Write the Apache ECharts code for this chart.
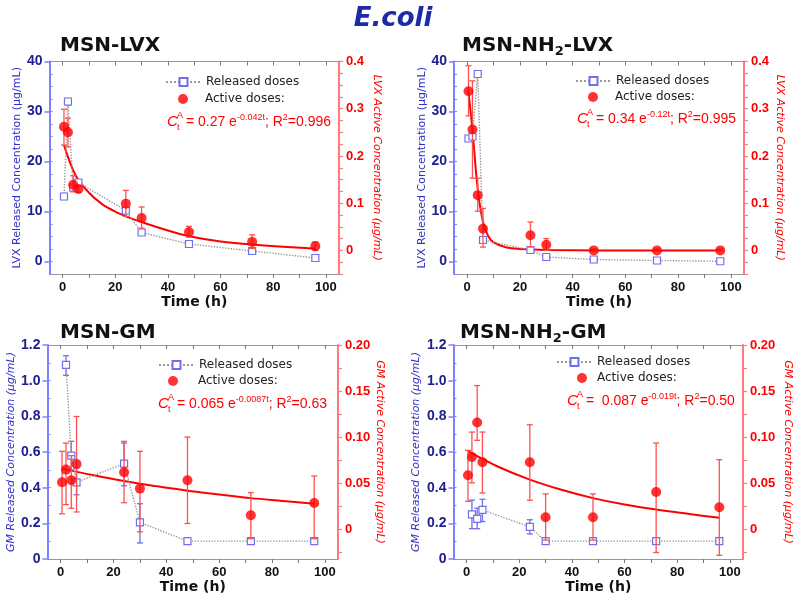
<!DOCTYPE html>
<html><head><meta charset="utf-8">
<script src="https://cdn.jsdelivr.net/npm/echarts@6/dist/echarts.min.js"></script>
<style>html,body{margin:0;padding:0;background:#fff}#c{width:800px;height:603px}</style>
</head><body><div id="c"></div><script>
// ---------- tick labels ----------
const xTicks = [0, 20, 40, 60, 80, 100];
const xMinorTicks = [0, 10, 20, 30, 40, 50, 60, 70, 80, 90, 100];
const lvxLeftTicks = [0, 10, 20, 30, 40];
const lvxLeftMinor = [-2.5, 0, 2.5, 5, 7.5, 10, 12.5, 15, 17.5, 20, 22.5, 25, 27.5, 30, 32.5, 35, 37.5, 40];
const lvxRightTicks = [0, 0.1, 0.2, 0.3, 0.4];
const lvxRightMinor = [-0.05, -0.025, 0, 0.025, 0.05, 0.075, 0.1, 0.125, 0.15, 0.175, 0.2, 0.225, 0.25, 0.275, 0.3, 0.325, 0.35, 0.375, 0.4];
const gmLeftTicks = [0, 0.2, 0.4, 0.6, 0.8, 1.0, 1.2];
const gmLeftMinor = [0, 0.1, 0.2, 0.3, 0.4, 0.5, 0.6, 0.7, 0.8, 0.9, 1.0, 1.1, 1.2];
const gmRightTicks = [0, 0.05, 0.10, 0.15, 0.20];
const gmRightMinor = [-0.025, 0, 0.025, 0.05, 0.075, 0.1, 0.125, 0.15, 0.175, 0.2];

// ---------- MSN-LVX ----------
const p1RelT = [0.5, 2, 4, 6, 24, 30, 48, 72, 96];
const p1Rel = [13.0, 32.0, 14.8, 15.8, 10.2, 5.8, 3.5, 2.1, 0.7];
const p1RelLo = [12.4, 31.3, 14.2, 15.3, 9.6, 5.3, 3.1, 1.7, 0.3];
const p1RelHi = [13.6, 32.6, 15.4, 16.3, 10.8, 6.3, 3.9, 2.5, 1.1];
const p1ActT = [0.5, 2, 4, 6, 24, 30, 48, 72, 96];
const p1Act = [0.262, 0.25, 0.139, 0.130, 0.099, 0.0686, 0.039, 0.018, 0.009];
const p1ActLo = [0.223, 0.219, 0.124, 0.123, 0.072, 0.047, 0.028, 0.004, 0.0];
const p1ActHi = [0.299, 0.28, 0.158, 0.137, 0.127, 0.092, 0.051, 0.033, 0.018];
const p1FitT = [0.5, 5, 10, 15, 20, 25, 30, 40, 48, 60, 72, 96];
const p1Fit = [0.223, 0.158, 0.122, 0.098, 0.082, 0.070, 0.060, 0.042, 0.030, 0.019, 0.0125, 0.0036];

// ---------- MSN-NH2-LVX ----------
const p2RelT = [0.5, 2, 4, 6, 24, 30, 48, 72, 96];
const p2Rel = [24.6, 25.0, 37.5, 4.3, 2.3, 0.9, 0.4, 0.2, 0.05];
const p2RelLo = [24.1, 24.5, 37.0, 3.8, 1.8, 0.5, 0.0, -0.2, -0.35];
const p2RelHi = [25.1, 25.5, 38.0, 4.8, 2.8, 1.3, 0.8, 0.6, 0.45];
const p2ActT = [0.5, 2, 4, 6, 24, 30, 48, 72, 96];
const p2Act = [0.337, 0.256, 0.117, 0.046, 0.032, 0.012, 0, 0, 0];
const p2ActLo = [0.285, 0.153, 0.083, 0.007, 0.007, 0, 0, 0, 0];
const p2ActHi = [0.391, 0.359, 0.153, 0.089, 0.060, 0.025, 0.003, 0.003, 0.003];
const p2FitT = [0.5, 2, 4, 6, 8, 10, 15, 20, 30, 50, 96];
const p2Fit = [0.335, 0.255, 0.13, 0.06, 0.03, 0.017, 0.006, 0.003, 0.001, 0, 0];

// ---------- MSN-GM ----------
const p3RelT = [2, 4, 6, 24, 30, 48, 72, 96];
const p3Rel = [1.088, 0.58, 0.43, 0.535, 0.205, 0.1, 0.1, 0.1];
const p3RelLo = [1.03, 0.50, 0.36, 0.41, 0.09, 0.095, 0.095, 0.095];
const p3RelHi = [1.14, 0.66, 0.51, 0.65, 0.31, 0.105, 0.105, 0.105];
const p3ActT = [0.5, 2, 4, 6, 24, 30, 48, 72, 96];
const p3Act = [0.0512, 0.0649, 0.0533, 0.071, 0.062, 0.0443, 0.0533, 0.0155, 0.0288];
const p3ActLo = [0.017, 0.027, 0.023, 0.019, 0.029, -0.0025, 0.0065, -0.010, -0.010];
const p3ActHi = [0.0847, 0.0937, 0.080, 0.1225, 0.0955, 0.0847, 0.1002, 0.040, 0.058];
const p3FitT = [0.5, 12, 24, 36, 48, 60, 72, 84, 96];
const p3Fit = [0.066, 0.059, 0.0525, 0.047, 0.042, 0.038, 0.034, 0.031, 0.028];

// ---------- MSN-NH2-GM ----------
const p4RelT = [2, 4, 6, 24, 30, 48, 72, 96];
const p4Rel = [0.25, 0.225, 0.275, 0.18, 0.1, 0.1, 0.1, 0.1];
const p4RelLo = [0.17, 0.17, 0.21, 0.14, 0.095, 0.095, 0.095, 0.095];
const p4RelHi = [0.33, 0.285, 0.335, 0.22, 0.105, 0.105, 0.105, 0.105];
const p4ActT = [0.5, 2, 4, 6, 24, 30, 48, 72, 96];
const p4Act = [0.0587, 0.0786, 0.116, 0.073, 0.0728, 0.0133, 0.0133, 0.0407, 0.0241];
const p4ActLo = [0.0306, 0.0505, 0.0966, 0.0396, 0.0317, -0.0115, -0.0115, -0.025, -0.028];
const p4ActHi = [0.0858, 0.1056, 0.156, 0.1056, 0.1135, 0.0386, 0.0386, 0.0937, 0.0757];
const p4FitT = [0.5, 12, 24, 36, 48, 60, 72, 84, 96];
const p4Fit = [0.085, 0.068, 0.054, 0.043, 0.034, 0.027, 0.0216, 0.017, 0.0126];

// ---------- styling ----------
const RED = '#ff0000', RED_L = '#ff7a7a', BLUE_L = '#8080ff', NAVY = '#20208c', SQ = '#6f6ff0';
const FONT = 'DejaVu Sans', LFONT = 'Liberation Sans';
const zip = (a, b) => a.map((v, i) => [v, b[i]]);
const zip3 = (a, b, c) => a.map((v, i) => [v, b[i], c[i]]);
const f1 = v => v === 0 ? '0' : v.toFixed(1);
const f2 = v => v === 0 ? '0' : v.toFixed(2);

const panels = [
  { grid: {left: 49.5, right: 461, top: 61.5, height: 212.5},
    L: {min: -2.5, max: 40, ticks: lvxLeftTicks, minor: lvxLeftMinor, fmt: v => String(v), name: 'LVX Released Concentration (μg/mL)', italic: false, gap: 24},
    R: {min: -0.05, max: 0.4, ticks: lvxRightTicks, minor: lvxRightMinor, fmt: f1, name: 'LVX Active Concentration (μg/mL)', gap: 32},
    rel: [p1RelT, p1Rel, p1RelLo, p1RelHi], act: [p1ActT, p1Act, p1ActLo, p1ActHi], fit: [p1FitT, p1Fit] },
  { grid: {left: 454, right: 56, top: 61.5, height: 212.5},
    L: {min: -2.5, max: 40, ticks: lvxLeftTicks, minor: lvxLeftMinor, fmt: v => String(v), name: 'LVX Released Concentration (μg/mL)', italic: false, gap: 20},
    R: {min: -0.05, max: 0.4, ticks: lvxRightTicks, minor: lvxRightMinor, fmt: f1, name: 'LVX Active Concentration (μg/mL)', gap: 30},
    rel: [p2RelT, p2Rel, p2RelLo, p2RelHi], act: [p2ActT, p2Act, p2ActLo, p2ActHi], fit: [p2FitT, p2Fit] },
  { grid: {left: 47.5, right: 462, top: 345, height: 214},
    L: {min: 0, max: 1.2, ticks: gmLeftTicks, minor: gmLeftMinor, fmt: f1, name: 'GM Released Concentration (μg/mL)', italic: true, gap: 29},
    R: {min: -0.032, max: 0.2, ticks: gmRightTicks, minor: gmRightMinor, fmt: f2, name: 'GM Active Concentration (μg/mL)', gap: 36},
    rel: [p3RelT, p3Rel, p3RelLo, p3RelHi], act: [p3ActT, p3Act, p3ActLo, p3ActHi], fit: [p3FitT, p3Fit] },
  { grid: {left: 453.5, right: 57, top: 345, height: 214},
    L: {min: 0, max: 1.2, ticks: gmLeftTicks, minor: gmLeftMinor, fmt: f1, name: 'GM Released Concentration (μg/mL)', italic: true, gap: 32},
    R: {min: -0.032, max: 0.2, ticks: gmRightTicks, minor: gmRightMinor, fmt: f2, name: 'GM Active Concentration (μg/mL)', gap: 39},
    rel: [p4RelT, p4Rel, p4RelLo, p4RelHi], act: [p4ActT, p4Act, p4ActLo, p4ActHi], fit: [p4FitT, p4Fit] }
];

function errRender(color, cap) {
  return function (params, api) {
    const x = api.value(0), lo = api.value(1), hi = api.value(2);
    const a = api.coord([x, lo]), b = api.coord([x, hi]);
    return {type: 'group', children: [
      {type: 'line', shape: {x1: a[0], y1: a[1], x2: b[0], y2: b[1]}, style: {stroke: color, lineWidth: 1.3}},
      {type: 'line', shape: {x1: a[0] - cap, y1: a[1], x2: a[0] + cap, y2: a[1]}, style: {stroke: color, lineWidth: 1.3}},
      {type: 'line', shape: {x1: b[0] - cap, y1: b[1], x2: b[0] + cap, y2: b[1]}, style: {stroke: color, lineWidth: 1.3}}
    ]};
  };
}

const grids = [], xAxes = [], yAxes = [], series = [];
panels.forEach((p, i) => {
  grids.push(Object.assign({containLabel: false}, p.grid));
  xAxes.push({type: 'value', gridIndex: i, position: 'bottom', min: -5, max: 105,
    name: 'Time (h)', nameLocation: 'middle', nameGap: 20,
    nameTextStyle: {fontFamily: FONT, fontWeight: 'bold', fontSize: 14, color: '#111'},
    axisLine: {show: true, onZero: false, lineStyle: {color: '#999', width: 1}},
    axisTick: {show: true, length: 4, customValues: xMinorTicks, lineStyle: {color: '#777'}},
    axisLabel: {customValues: xTicks, margin: 7, fontFamily: LFONT, fontWeight: 'bold', fontSize: 13, color: '#111'},
    splitLine: {show: false}});
  xAxes.push({type: 'value', gridIndex: i, position: 'top', min: -5, max: 105,
    axisLine: {show: true, onZero: false, lineStyle: {color: '#999', width: 1}},
    axisTick: {show: true, inside: true, length: 4, customValues: xMinorTicks, lineStyle: {color: '#777'}},
    axisLabel: {show: false}, splitLine: {show: false}});
  yAxes.push({type: 'value', gridIndex: i, position: 'left', min: p.L.min, max: p.L.max,
    name: p.L.name, nameLocation: 'middle', nameGap: p.L.gap,
    nameTextStyle: {fontFamily: FONT, fontSize: 11, color: '#3030c8', fontStyle: p.L.italic ? 'italic' : 'normal'},
    axisLine: {show: true, onZero: false, lineStyle: {color: BLUE_L, width: 2}},
    axisTick: {show: true, length: 5, customValues: p.L.ticks, lineStyle: {color: BLUE_L, width: 1.5}},
    axisLabel: {customValues: p.L.ticks, formatter: p.L.fmt, margin: 7, fontFamily: LFONT, fontWeight: 'bold', fontSize: 14, color: NAVY},
    splitLine: {show: false}});
  yAxes.push({type: 'value', gridIndex: i, position: 'right', min: p.R.min, max: p.R.max,
    name: p.R.name, nameLocation: 'middle', nameGap: p.R.gap, nameRotate: -90,
    nameTextStyle: {fontFamily: FONT, fontSize: 11, color: RED, fontStyle: 'italic'},
    axisLine: {show: true, onZero: false, lineStyle: {color: RED_L, width: 2}},
    axisTick: {show: true, length: 4, customValues: p.R.minor, lineStyle: {color: RED_L, width: 1.2}},
    axisLabel: {customValues: p.R.ticks, formatter: p.R.fmt, margin: 7, fontFamily: LFONT, fontWeight: 'bold', fontSize: 13, color: RED},
    splitLine: {show: false}});
  yAxes.push({type: 'value', gridIndex: i, position: 'left', min: p.L.min, max: p.L.max,
    axisLine: {show: false, onZero: false},
    axisTick: {show: true, inside: true, length: 3, customValues: p.L.minor, lineStyle: {color: BLUE_L, width: 1}},
    axisLabel: {show: false}, splitLine: {show: false}});

  const xi = 2 * i, yl = 3 * i, yr = 3 * i + 1;
  series.push({type: 'line', name: 'fit', xAxisIndex: xi, yAxisIndex: yr, data: zip(p.fit[0], p.fit[1]),
    smooth: 0.35, showSymbol: false, symbol: 'none',
    lineStyle: {color: RED, width: 2}, z: 2, silent: true});
  series.push({type: 'line', name: 'Released doses', xAxisIndex: xi, yAxisIndex: yl, data: zip(p.rel[0], p.rel[1]),
    symbol: 'rect', symbolSize: 7, showAllSymbol: true,
    itemStyle: {color: '#fff', borderColor: SQ, borderWidth: 1.2},
    lineStyle: {color: '#999', type: 'dotted', width: 1.4}, z: 3});
  series.push({type: 'custom', name: 'relErr', xAxisIndex: xi, yAxisIndex: yl,
    data: zip3(p.rel[0], p.rel[2], p.rel[3]), encode: {x: 0, y: [1, 2]},
    renderItem: errRender(SQ, 3), z: 3, silent: true});
  series.push({type: 'custom', name: 'actErr', xAxisIndex: xi, yAxisIndex: yr,
    data: zip3(p.act[0], p.act[2], p.act[3]), encode: {x: 0, y: [1, 2]},
    renderItem: errRender('#ff5050', 3), z: 4, silent: true});
  series.push({type: 'scatter', name: 'Active doses:', xAxisIndex: xi, yAxisIndex: yr, data: zip(p.act[0], p.act[1]),
    symbol: 'circle', symbolSize: 10, itemStyle: {color: RED}, z: 5});
});

const legendText = {fontFamily: FONT, fontSize: 12, color: '#222', lineHeight: 14};
// [left of released icon, released row y, active dot x, active row y, active text x]
const legendPos = [[165, 82, 183, 99, 205], [575, 81, 593, 97, 615], [158, 365, 173, 381, 198], [556, 362, 582, 378, 597]];
const legends = [];
legendPos.forEach(q => {
  legends.push({data: ['Released doses'], left: q[0], top: q[1] - 7, itemWidth: 35, itemHeight: 10, padding: 0,
    selectedMode: false, textStyle: legendText});
  legends.push({data: ['Active doses:'], left: q[2] - 5, top: q[3] - 7, itemWidth: 10, itemHeight: 10, padding: 0,
    selectedMode: false, textStyle: Object.assign({}, legendText, {padding: [0, 0, 0, Math.max(0, q[4] - (q[2] - 5) - 15)]})});
});

function eq(x, y, rest) {
  const sm = {fontSize: 9, fontFamily: LFONT, fill: RED};
  return {type: 'group', x: x, y: y, children: [
    {type: 'text', x: 0, y: 0, style: {text: 'C', fontSize: 15, fontStyle: 'italic', fontFamily: LFONT, fill: RED, verticalAlign: 'middle', textVerticalAlign: 'middle'}},
    {type: 'text', x: 10, y: -6, style: Object.assign({text: 'A', verticalAlign: 'middle', textVerticalAlign: 'middle'}, sm)},
    {type: 'text', x: 10, y: 6, style: Object.assign({text: 't', verticalAlign: 'middle', textVerticalAlign: 'middle'}, sm)},
    {type: 'text', x: 15, y: 0, style: {text: rest, fontSize: 14, fontFamily: LFONT, fill: RED,
      verticalAlign: 'middle', textVerticalAlign: 'middle',
      rich: {n: {fontSize: 14, fontFamily: LFONT, fill: RED, lineHeight: 18},
             s: {fontSize: 9, fontFamily: LFONT, fill: RED, lineHeight: 10, verticalAlign: 'top'}}}}
  ]};
}
function ptitle(x, y, txt) {
  return {type: 'text', x: x, y: y, style: {text: txt, fontFamily: FONT, fontWeight: 'bold', fontSize: 20, fill: '#111',
    verticalAlign: 'middle', textVerticalAlign: 'middle',
    rich: {m: {fontFamily: FONT, fontWeight: 'bold', fontSize: 20, fill: '#111', lineHeight: 24},
           sub: {fontFamily: FONT, fontWeight: 'bold', fontSize: 13, fill: '#111', lineHeight: 14, verticalAlign: 'bottom'}}}};
}

const graphic = [
  {type: 'text', x: 393, y: 19, style: {text: 'E.coli', fontFamily: FONT, fontWeight: 'bold', fontStyle: 'italic', fontSize: 26,
    fill: '#1e2aa8', align: 'center', textAlign: 'center', verticalAlign: 'middle', textVerticalAlign: 'middle'}},
  ptitle(60, 46, '{m|MSN-LVX}'),
  ptitle(462, 46, '{m|MSN-NH}{sub|2}{m|-LVX}'),
  ptitle(60, 333, '{m|MSN-GM}'),
  ptitle(460, 333, '{m|MSN-NH}{sub|2}{m|-GM}'),
  eq(167, 122, '{n| = 0.27 e}{s|-0.042t}{n|; R}{s|2}{n|=0.996}'),
  eq(577, 119, '{n| = 0.34 e}{s|-0.12t}{n|; R}{s|2}{n|=0.995}'),
  eq(158, 404, '{n| = 0.065 e}{s|-0.0087t}{n|; R}{s|2}{n|=0.63}'),
  eq(567, 401, '{n| =  0.087 e}{s|-0.019t}{n|; R}{s|2}{n|=0.50}')
];

const chart = echarts.init(document.getElementById('c'), null, {renderer: 'canvas'});
chart.setOption({
  backgroundColor: '#fff',
  animation: false,
  grid: grids, xAxis: xAxes, yAxis: yAxes, series: series,
  legend: legends, graphic: graphic
});
</script></body></html>
